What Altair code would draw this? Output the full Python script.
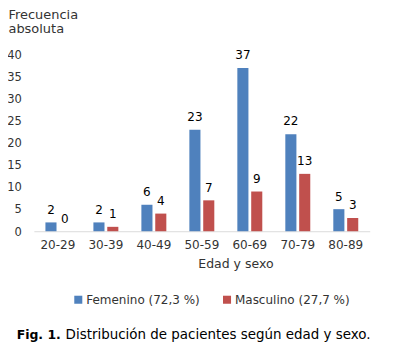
import altair as alt
import pandas as pd

categories = ["20-29", "30-39", "40-49", "50-59", "60-69", "70-79", "80-89"]
femenino = [2, 2, 6, 23, 37, 22, 5]
masculino = [0, 1, 4, 7, 9, 13, 3]
series = ["Femenino (72,3 %)", "Masculino (27,7 %)"]
colors = ["#4F81BD", "#C0504D"]
y_ticks = [0, 5, 10, 15, 20, 25, 30, 35, 40]

rows = []
for c, f, m in zip(categories, femenino, masculino):
    rows.append({"edad": c, "sexo": series[0], "valor": f})
    rows.append({"edad": c, "sexo": series[1], "valor": m})
df = pd.DataFrame(rows)

FONT = "DejaVu Sans"
TXT = "#333333"

x_axis = alt.Axis(title="Edad y sexo", labelAngle=0, ticks=False,
                  domainColor="#d9d9d9", labelPadding=8,
                  labelFontSize=12.5, labelColor=TXT, labelFont=FONT,
                  titleFont=FONT, titleFontSize=13, titleFontWeight="normal",
                  titleColor=TXT, titleX=210, titleY=28,
                  titleBaseline="top", titleAnchor="middle")
y_axis = alt.Axis(values=y_ticks, grid=False, domain=False,
                  ticks=False, labelOverlap=False, labelFlush=False,
                  labelPadding=13, labelFontSize=12, labelColor=TXT,
                  labelFont=FONT,
                  title=["Frecuencia", "absoluta"], titleAngle=0,
                  titleAlign="left", titleBaseline="top",
                  titleX=-27, titleY=-49, titleFont=FONT,
                  titleFontSize=13.5, titleFontWeight="normal",
                  titleColor=TXT, titleLineHeight=15)
x_scale = alt.Scale(paddingInner=0.48, paddingOuter=0.24)
xo_scale = alt.Scale(paddingInner=0.2)
y_scale = alt.Scale(domain=[0, 40], nice=False)

bars = alt.Chart(df).mark_bar().encode(
    x=alt.X("edad:N", sort=categories, scale=x_scale, axis=x_axis),
    xOffset=alt.XOffset("sexo:N", sort=series, scale=xo_scale),
    y=alt.Y("valor:Q", scale=y_scale, axis=y_axis),
    color=alt.Color("sexo:N", sort=series,
                    scale=alt.Scale(domain=series, range=colors),
                    legend=alt.Legend(title=None, orient="none", direction="horizontal",
                                      legendX=40, legendY=249, symbolType="square",
                                      symbolSize=70, symbolStrokeWidth=0,
                                      labelFont=FONT, labelFontSize=12.5,
                                      labelColor=TXT, labelOffset=2,
                                      columnPadding=22, padding=0)),
)

labels = alt.Chart(df).mark_text(baseline="alphabetic", dy=-9, font=FONT,
                                 fontSize=12.5, color="#000000").encode(
    x=alt.X("edad:N", sort=categories, scale=x_scale, axis=x_axis),
    xOffset=alt.XOffset("sexo:N", sort=series, scale=xo_scale),
    y=alt.Y("valor:Q", scale=y_scale, axis=y_axis),
    text=alt.Text("valor:Q"),
)

cap_df = pd.DataFrame({"a": ["Fig. 1."], "b": ["Distribución de pacientes según edad y sexo."]})
cap1 = alt.Chart(cap_df).mark_text(align="left", baseline="alphabetic", font=FONT,
                                   fontSize=13, fontWeight="bold", color="#000000").encode(
    x=alt.value(-18), y=alt.value(296), text="a:N")
cap2 = alt.Chart(cap_df).mark_text(align="left", baseline="alphabetic", font=FONT,
                                   fontSize=14, color="#000000").encode(
    x=alt.value(33), y=alt.value(296), text="b:N")

chart = alt.layer(bars, labels, cap1, cap2).properties(
    width=350, height=184,
    autosize=alt.AutoSizeParams(type="none"),
    padding={"left": 27, "top": 41, "right": 19, "bottom": 138},
    background="white",
).configure_view(stroke=None)

chart.save("out.html", embed_options={"renderer": "svg", "actions": False})
